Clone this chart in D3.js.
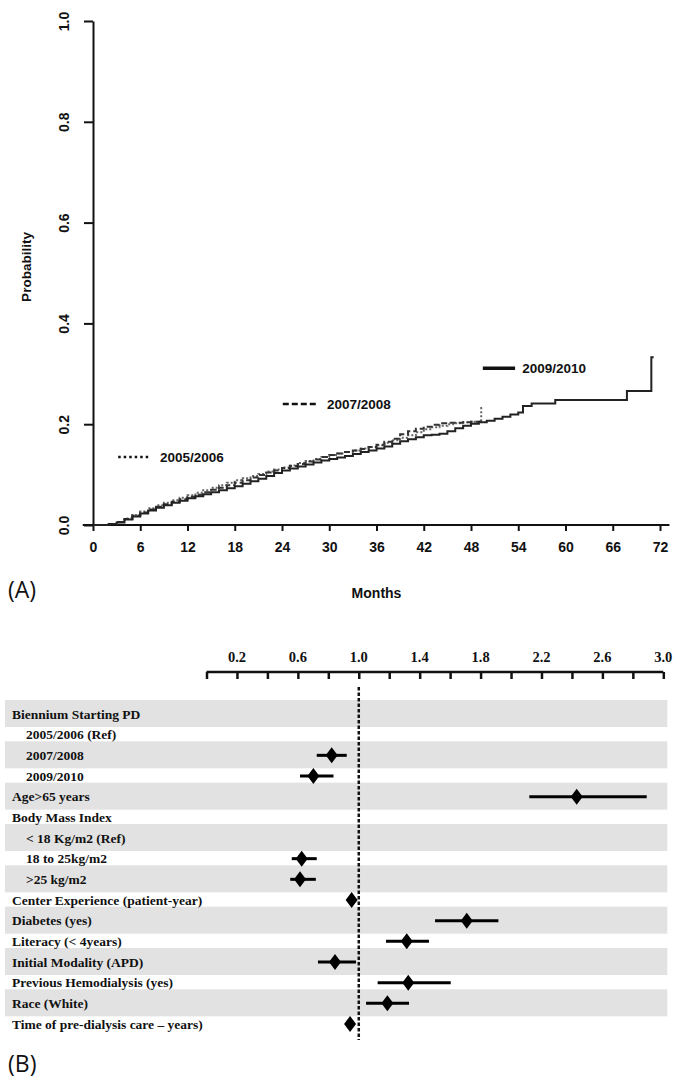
<!DOCTYPE html>
<html><head><meta charset="utf-8">
<script src="https://cdn.jsdelivr.net/npm/d3@7"></script>
<style>
html,body{margin:0;padding:0;background:#fff;}
svg{display:block;}
</style></head>
<body>
<script>
// ---------- Panel A data ----------
const monthTicks = [0,6,12,18,24,30,36,42,48,54,60,66,72];
const probTicks = [0,0.2,0.4,0.6,0.8,1.0];
const probTickLabels = ["0.0","0.2","0.4","0.6","0.8","1.0"];
const seriesNames = ["2005/2006","2007/2008","2009/2010"];

const months2005 = [0,1,2,3,4,5,6,7,8,9,10,11,12,13,14,15,16,17,18,19,20,21,22,23,24,25,26,27,28,29,30,31,32,33,34,35,36,37,38,39,40,41,42,43,44,45,46,47,48,49.3,49.3,49.5];
const prob2005   = [0,0,0.002,0.006,0.013,0.020,0.027,0.033,0.039,0.044,0.049,0.054,0.059,0.064,0.069,0.074,0.079,0.084,0.089,0.093,0.097,0.101,0.106,0.110,0.114,0.118,0.123,0.127,0.131,0.135,0.139,0.142,0.145,0.148,0.152,0.155,0.158,0.163,0.168,0.173,0.178,0.184,0.190,0.194,0.197,0.200,0.202,0.204,0.205,0.205,0.232,0.232];

const months2007 = [0,1,2,3,4,5,6,7,8,9,10,11,12,13,14,15,16,17,18,19,20,21,22,23,24,25,26,27,28,29,30,31,32,33,34,35,36,37,38,39,40,41,42,43,44,45,46,47,48,49.2];
const prob2007   = [0,0,0.002,0.006,0.012,0.019,0.025,0.031,0.036,0.041,0.046,0.051,0.056,0.060,0.065,0.070,0.074,0.079,0.084,0.089,0.094,0.099,0.104,0.108,0.113,0.117,0.121,0.126,0.130,0.135,0.139,0.142,0.145,0.148,0.151,0.155,0.159,0.165,0.171,0.180,0.186,0.191,0.195,0.199,0.202,0.203,0.203,0.204,0.205,0.208];

const months2009 = [0,1,2,3,4,5,6,7,8,9,10,11,12,13,14,15,16,17,18,19,20,21,22,23,24,25,26,27,28,29,30,31,32,33,34,35,36,37,38,39,40,41,42,43,44,45,46,47,48,49,50,51,52,53,54,54.6,55.7,58.7,67.8,70.9,71.2];
const prob2009   = [0,0,0.002,0.005,0.011,0.017,0.023,0.029,0.034,0.039,0.044,0.048,0.053,0.057,0.061,0.065,0.069,0.073,0.077,0.082,0.087,0.092,0.097,0.103,0.108,0.112,0.116,0.120,0.124,0.128,0.131,0.134,0.137,0.141,0.145,0.148,0.152,0.156,0.161,0.166,0.170,0.174,0.178,0.179,0.181,0.186,0.192,0.197,0.201,0.204,0.207,0.211,0.215,0.219,0.223,0.236,0.241,0.248,0.266,0.333,0.333];

// ---------- Panel B data ----------
const rowLabels = [
 "Biennium Starting PD","2005/2006 (Ref)","2007/2008","2009/2010","Age>65 years",
 "Body Mass Index","< 18 Kg/m2 (Ref)","18 to 25kg/m2",">25 kg/m2",
 "Center Experience (patient-year)","Diabetes (yes)","Literacy (< 4years)",
 "Initial Modality (APD)","Previous Hemodialysis (yes)","Race (White)",
 "Time of pre-dialysis care – years)"
];
const rowLevel = [0,1,1,1,0,0,1,1,1,0,0,0,0,0,0,0];
const hazardRatio = [null,null,0.822,0.702,2.431,null,null,0.625,0.614,0.953,1.709,1.315,0.844,1.325,1.188,0.943];
const ciLower     = [null,null,0.724,0.614,2.120,null,null,0.560,0.550,0.953,1.501,1.179,0.732,1.124,1.048,0.943];
const ciUpper     = [null,null,0.921,0.834,2.891,null,null,0.724,0.718,0.953,1.917,1.461,0.982,1.604,1.330,0.943];
const hrTicks = [0,0.2,0.4,0.6,0.8,1.0,1.2,1.4,1.6,1.8,2.0,2.2,2.4,2.6,2.8,3.0];
const hrTickLabels = ["0.2","0.6","1.0","1.4","1.8","2.2","2.6","3.0"];

// ---------- Drawing ----------
const W = 682, H = 1084;
const svg = d3.select("body").append("svg").attr("width", W).attr("height", H);
svg.append("rect").attr("width", W).attr("height", H).attr("fill", "#fff");

const sansBold = "Liberation Sans, Arial, Helvetica, sans-serif";
const serif = "Liberation Serif, Times New Roman, serif";

// Panel A
const x = d3.scaleLinear().domain([0,72]).range([93,660]);
const y = d3.scaleLinear().domain([0,1]).range([525,21]);
const gA = svg.append("g");

const yAxis = gA.append("g").attr("transform", `translate(${x(0)},0)`)
  .call(d3.axisLeft(y).tickValues(probTicks).tickFormat((d,i)=>probTickLabels[i]).tickSize(9).tickSizeOuter(0));
yAxis.select(".domain").attr("stroke", "#111").attr("stroke-width", 2);
yAxis.selectAll(".tick line").attr("stroke", "#111").attr("stroke-width", 2);
yAxis.selectAll(".tick text")
  .attr("font-family", sansBold).attr("font-weight", "bold").attr("font-size", 14).attr("fill", "#111")
  .attr("x", null).attr("text-anchor", "middle")
  .attr("transform", "translate(-29,0) rotate(-90)").attr("dy", "0.35em");

const xAxis = gA.append("g").attr("transform", `translate(0,${y(0)})`)
  .call(d3.axisBottom(x).tickValues(monthTicks).tickSize(6).tickSizeOuter(0));
xAxis.select(".domain").remove();
xAxis.append("line").attr("x1", x(-1.3)).attr("x2", x(73.2)).attr("y1", 0).attr("y2", 0)
  .attr("stroke", "#111").attr("stroke-width", 2);
xAxis.selectAll(".tick line").attr("stroke", "#111").attr("stroke-width", 2);
xAxis.selectAll(".tick text")
  .attr("font-family", sansBold).attr("font-weight", "bold").attr("font-size", 14).attr("fill", "#111")
  .attr("y", 17);

gA.append("text").attr("x", (x(0)+x(72))/2).attr("y", 598).attr("text-anchor", "middle")
  .attr("font-family", sansBold).attr("font-weight", "bold").attr("font-size", 14).attr("fill", "#111")
  .text("Months");
gA.append("text").attr("transform", `translate(31,${(y(0)+y(1))/2 - 6}) rotate(-90)`).attr("text-anchor", "middle")
  .attr("font-family", sansBold).attr("font-weight", "bold").attr("font-size", 13.5).attr("fill", "#111")
  .text("Probability");

const line = d3.line().x(d=>x(d[0])).y(d=>y(d[1])).curve(d3.curveStepAfter);
const seriesData = [
  {name: seriesNames[0], pts: d3.zip(months2005, prob2005), dash: "2,2", color: "#666", ldash: "2.5,3", lx:[3.2,7.2], tx: 8.5, ly: 0.135},
  {name: seriesNames[1], pts: d3.zip(months2007, prob2007), dash: "6,3", color: "#333", ldash: "6,3", lx:[24.1,28.4], tx: 29.7, ly: 0.240},
  {name: seriesNames[2], pts: d3.zip(months2009, prob2009), dash: null, color: "#222", ldash: null, lx:[49.5,53.6], tx: 54.5, ly: 0.311}
];
seriesData.forEach(s => {
  gA.append("path").datum(s.pts).attr("d", line).attr("fill", "none")
    .attr("stroke", s.color).attr("stroke-width", 2).attr("stroke-dasharray", s.dash);
  gA.append("line").attr("x1", x(s.lx[0])).attr("x2", x(s.lx[1])).attr("y1", y(s.ly)).attr("y2", y(s.ly))
    .attr("stroke", "#111").attr("stroke-width", s.ldash ? 2.5 : 3.5).attr("stroke-dasharray", s.ldash);
  gA.append("text").attr("x", x(s.tx)).attr("y", y(s.ly)).attr("dy", "0.35em")
    .attr("font-family", sansBold).attr("font-weight", "bold").attr("font-size", 13.5).attr("fill", "#111")
    .text(s.name);
});

svg.append("text").attr("x", 8).attr("y", 598).attr("font-family", "Open Sans, Noto Sans, sans-serif")
  .attr("font-size", 23).attr("fill", "#111").text("(A)");

// Panel B
const hx = d3.scaleLinear().domain([0,3]).range([206.5,663.3]);
const ry = d3.scaleLinear().domain([0, rowLabels.length-1]).range([714,1024]);
const gB = svg.append("g");

rowLabels.forEach((lab,i) => {
  if (i % 2 === 0) {
    gB.append("rect").attr("x", 5).attr("width", hx(3.0)+4-5).attr("y", ry(i)-14).attr("height", 27)
      .attr("fill", "#e2e2e2");
  }
});
rowLabels.forEach((lab,i) => {
  gB.append("text").attr("x", rowLevel[i] ? 26 : 12).attr("y", ry(i)).attr("dy", "0.35em")
    .attr("font-family", serif).attr("font-weight", "bold").attr("font-size", 13.5).attr("fill", "#111")
    .text(lab);
});

const hAxis = gB.append("g").attr("transform", "translate(0,672)")
  .call(d3.axisBottom(hx).tickValues(hrTicks).tickFormat("").tickSize(7).tickSizeOuter(0));
hAxis.select(".domain").attr("stroke", "#111").attr("stroke-width", 2.5).attr("d", `M${hx(0)},0H${hx(3)}`);
hAxis.selectAll(".tick line").attr("stroke", "#111").attr("stroke-width", 2.5);
gB.selectAll(".hlab").data(hrTickLabels).enter().append("text")
  .attr("x", d=>hx(+d)).attr("y", 662).attr("text-anchor", "middle")
  .attr("font-family", serif).attr("font-weight", "bold").attr("font-size", 14.5).attr("fill", "#111")
  .text(d=>d);

gB.append("line").attr("x1", hx(1)).attr("x2", hx(1)).attr("y1", 687).attr("y2", 1040)
  .attr("stroke", "#111").attr("stroke-width", 2.5).attr("stroke-dasharray", "3.5,2");

hazardRatio.forEach((v,i) => {
  if (v == null) return;
  const cy = ry(i);
  if (ciUpper[i] > ciLower[i]) {
    gB.append("line").attr("x1", hx(ciLower[i])).attr("x2", hx(ciUpper[i])).attr("y1", cy).attr("y2", cy)
      .attr("stroke", "#000").attr("stroke-width", 3);
  }
  const cx = hx(v);
  gB.append("path").attr("d", `M${cx},${cy-8}L${cx+6},${cy}L${cx},${cy+8}L${cx-6},${cy}Z`).attr("fill", "#000");
});

svg.append("text").attr("x", 8).attr("y", 1072).attr("font-family", "Open Sans, Noto Sans, sans-serif")
  .attr("font-size", 23).attr("fill", "#111").text("(B)");
</script>
</body></html>
